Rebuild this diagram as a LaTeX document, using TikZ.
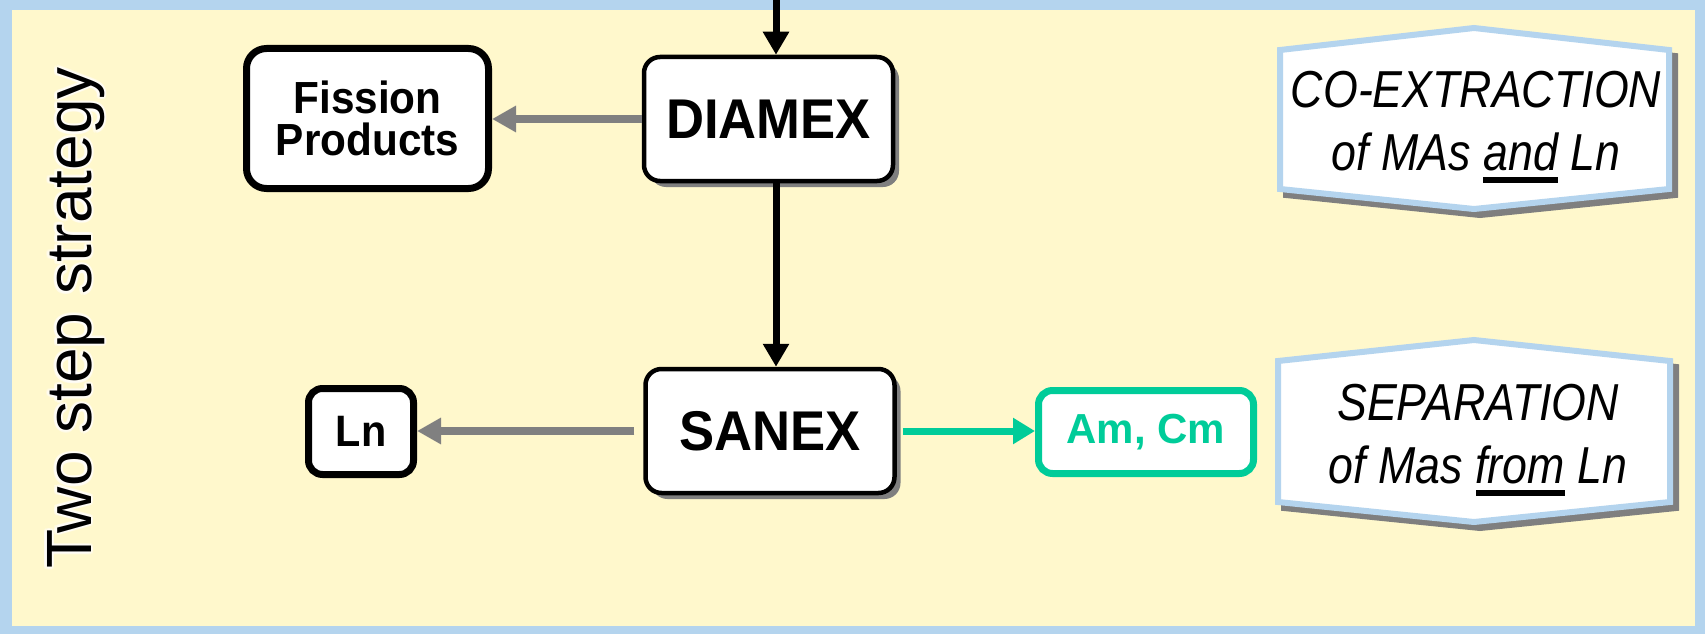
\documentclass[tikz,border=0pt]{standalone}
\usepackage{fontspec}
\setmainfont{Liberation Sans}
\newfontfamily\narrowsans[FakeStretch=0.94]{Liberation Sans}
\newfontfamily\bannersans[FakeStretch=0.86]{Liberation Sans}
\usetikzlibrary{arrows.meta,shadows}

\definecolor{panelfill}{HTML}{FFF8CC}
\definecolor{panelrim}{HTML}{B4D4EE}
\definecolor{flowgray}{HTML}{808080}
\definecolor{actinide}{HTML}{00CC99}
\definecolor{shade}{HTML}{7F7F7F}

% heavy underline used in the banner captions
\newcommand\thickul[1]{\setbox0\hbox{#1}\rlap{\rule[-13pt]{\wd0}{6pt}}\box0\relax}

\begin{document}
\begin{tikzpicture}[x=1pt,y=-1pt,
  procbox/.style={draw=black, fill=white, rounded corners=16pt, line width=4.5pt,
    font=\narrowsans\bfseries\fontsize{56}{60}\selectfont,
    minimum width=249pt, minimum height=124pt, inner sep=0pt,
    drop shadow={shadow xshift=6pt, shadow yshift=-6pt, fill=shade, opacity=1}},
  outbox/.style={draw=black, fill=white, line width=7pt, inner sep=0pt, align=center,
    font=\narrowsans\bfseries\fontsize{45}{42}\selectfont},
  banner/.style={draw=panelrim, fill=white, line width=6pt, line join=miter},
  bannershade/.style={draw=shade, fill=shade, line width=6pt, line join=miter},
  bannertext/.style={font=\bannersans\itshape\fontsize{52}{63}\selectfont,
    align=center, anchor=base},
  sidetext/.style={rotate=90, anchor=base, font=\fontsize{64}{70}\selectfont},
  feedarrow/.style={draw=black, line width=7pt, -{Triangle[length=23pt,width=25pt]}},
  grayarrow/.style={draw=flowgray, line width=8pt, -{Triangle[length=24pt,width=25pt]}},
  greenarrow/.style={draw=actinide, line width=7pt, -{Triangle[length=22pt,width=25pt]}}]

% panel with its light blue rim
\fill[panelrim] (0,0) rectangle (1705,634);
\fill[panelfill] (12,10) rectangle (1695,626);
\useasboundingbox (0,0) rectangle (1705,634);

% side caption with a soft white glow
\foreach \a in {0,30,...,330}
  \node[sidetext, text=white, opacity=0.35, xshift={2.5pt*cos(\a)}, yshift={2.5pt*sin(\a)}]
    (glow\a) at (91,318) {Two step strategy};
\node[sidetext] (strategy) at (91,318) {Two step strategy};

% process and product boxes
\node[procbox] (diamex) at (768.5,119) {DIAMEX};
\node[procbox] (sanex) at (770,431) {SANEX};
\node[outbox, rounded corners=20pt, minimum width=242pt, minimum height=140pt]
  (fission) at (367.5,118.5) {Fission\\Products};
\node[outbox, rounded corners=14pt, minimum width=105pt, minimum height=86pt,
  font=\narrowsans\bfseries\fontsize{44}{48}\selectfont] (ln) at (361,431.5) {Ln};
\node[outbox, draw=actinide, text=actinide, rounded corners=14pt,
  minimum width=215pt, minimum height=83pt,
  font=\bfseries\fontsize{42}{46}\selectfont] (amcm) at (1146,432) {Am, Cm};

% flows
\coordinate (feed) at (776,0);
\draw[feedarrow] (feed) -- (feed |- diamex.north);
\draw[feedarrow] (diamex.south -| feed) -- (sanex.north -| feed);
\draw[grayarrow] (diamex.west) -- (diamex.west -| fission.east);
\draw[grayarrow, shorten <=9pt] (sanex.west) -- (sanex.west -| ln.east);
\draw[greenarrow, shorten <=6pt] (sanex.east) -- (sanex.east -| amcm.west);

% banners
\path[bannershade] (1286,56) -- (1480,34) -- (1675,56) -- (1675,195) -- (1480,215) -- (1286,195) -- cycle;
\path[banner] (1280,50) -- (1474,28) -- (1669,50) -- (1669,189) -- (1474,209) -- (1280,189) -- cycle;
\node[bannertext] (coext) at (1476,170) {CO-EXTRACTION\\of MAs \thickul{and} Ln};

\path[bannershade] (1284,367) -- (1480,346) -- (1676,367) -- (1676,508) -- (1480,528) -- (1284,508) -- cycle;
\path[banner] (1278,361) -- (1474,340) -- (1670,361) -- (1670,502) -- (1474,522) -- (1278,502) -- cycle;
\node[bannertext] (separ) at (1478,483) {SEPARATION\\of Mas \thickul{from} Ln};
\end{tikzpicture}
\end{document}
